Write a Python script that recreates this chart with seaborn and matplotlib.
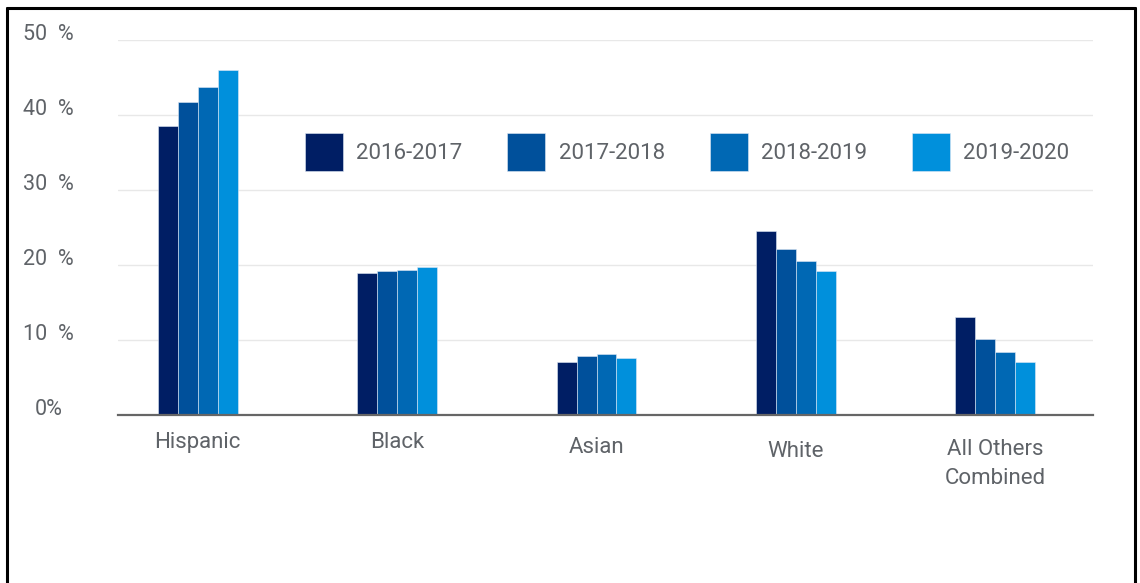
import matplotlib
matplotlib.use("Agg")
import matplotlib.pyplot as plt
import seaborn as sns
import pandas as pd
from matplotlib.lines import Line2D

# ---- data ----
categories = ["Hispanic", "Black", "Asian", "White", "All Others\nCombined"]
years = ["2016-2017", "2017-2018", "2018-2019", "2019-2020"]
v_2016_2017 = [38.6, 19.0, 7.1, 24.6, 13.1]
v_2017_2018 = [41.7, 19.2, 7.9, 22.2, 10.2]
v_2018_2019 = [43.7, 19.4, 8.1, 20.5, 8.4]
v_2019_2020 = [46.0, 19.7, 7.6, 19.2, 7.1]
ytick_values = [0, 10, 20, 30, 40, 50]
ytick_labels = ["0%", "10  %", "20  %", "30  %", "40  %", "50  %"]

series = [v_2016_2017, v_2017_2018, v_2018_2019, v_2019_2020]
rows = []
for yr, vals in zip(years, series):
    for cat, v in zip(categories, vals):
        rows.append({"group": cat, "year": yr, "value": v})
df = pd.DataFrame(rows)

colors = ["#001E64", "#00509B", "#0068B4", "#0090DC"]
text_color = "#5f6368"

sns.set_theme(style="white")
plt.rcParams["font.family"] = ["Roboto", "DejaVu Sans"]

W, H = 1140, 583
fig = plt.figure(figsize=(W / 100, H / 100), dpi=100)
ax = fig.add_axes([118 / W, 1 - 415 / H, (1093 - 118) / W, (415 - 40) / H])

sns.barplot(data=df, x="group", y="value", hue="year", hue_order=years,
            order=categories, palette=colors, saturation=1, width=0.4,
            gap=0, edgecolor="#dfe8f5", linewidth=0.4, ax=ax)

ax.set_ylim(0, 50)
ax.set_xlim(-0.4, 4.49)
ax.set_xlabel("")
ax.set_ylabel("")
ax.set_axisbelow(True)
ax.yaxis.grid(True, color="#e8e8e8", linewidth=1)
ax.xaxis.grid(False)
for s in ["top", "left", "right"]:
    ax.spines[s].set_visible(False)
ax.spines["bottom"].set_color("#666666")
ax.spines["bottom"].set_linewidth(1.6)

ax.set_yticks(ytick_values)
ax.set_yticklabels(ytick_labels)
ax.tick_params(axis="y", length=0, pad=50, labelsize=15.5, labelcolor=text_color)
for lbl in ax.get_yticklabels():
    lbl.set_ha("center")
    lbl.set_va("baseline")

ax.tick_params(axis="x", length=0, pad=23.8, labelsize=16, labelcolor=text_color)
extra_px = [0, 0, 5, 9, 36]
axes_h_px = 415 - 40
for lbl, dy in zip(ax.get_xticklabels(), extra_px):
    lbl.set_va("baseline")
    lbl.set_linespacing(1.5)
    lbl.set_y(-dy / axes_h_px)

handles, labels = ax.get_legend_handles_labels()
if ax.get_legend() is not None:
    ax.get_legend().remove()
ax.legend(handles, labels, ncol=4, loc="center left",
          bbox_to_anchor=(305 / W, 1 - 152 / H), bbox_transform=fig.transFigure,
          frameon=False, fontsize=16, labelcolor=text_color,
          handlelength=1.71, handleheight=2.25, handletextpad=0.59,
          columnspacing=2.03, borderpad=0, borderaxespad=0)

# outer frame (left, top, right)
lw = 2.2
xl, xr, yt = 6.5 / W, 1135 / W, 1 - 8 / H
fig.add_artist(Line2D([xl, xl], [0, yt], transform=fig.transFigure, color="black", lw=lw))
fig.add_artist(Line2D([xl, xr], [yt, yt], transform=fig.transFigure, color="black", lw=lw))
fig.add_artist(Line2D([xr, xr], [0, yt], transform=fig.transFigure, color="black", lw=lw))

fig.savefig("out.png", dpi=100, facecolor="white")
